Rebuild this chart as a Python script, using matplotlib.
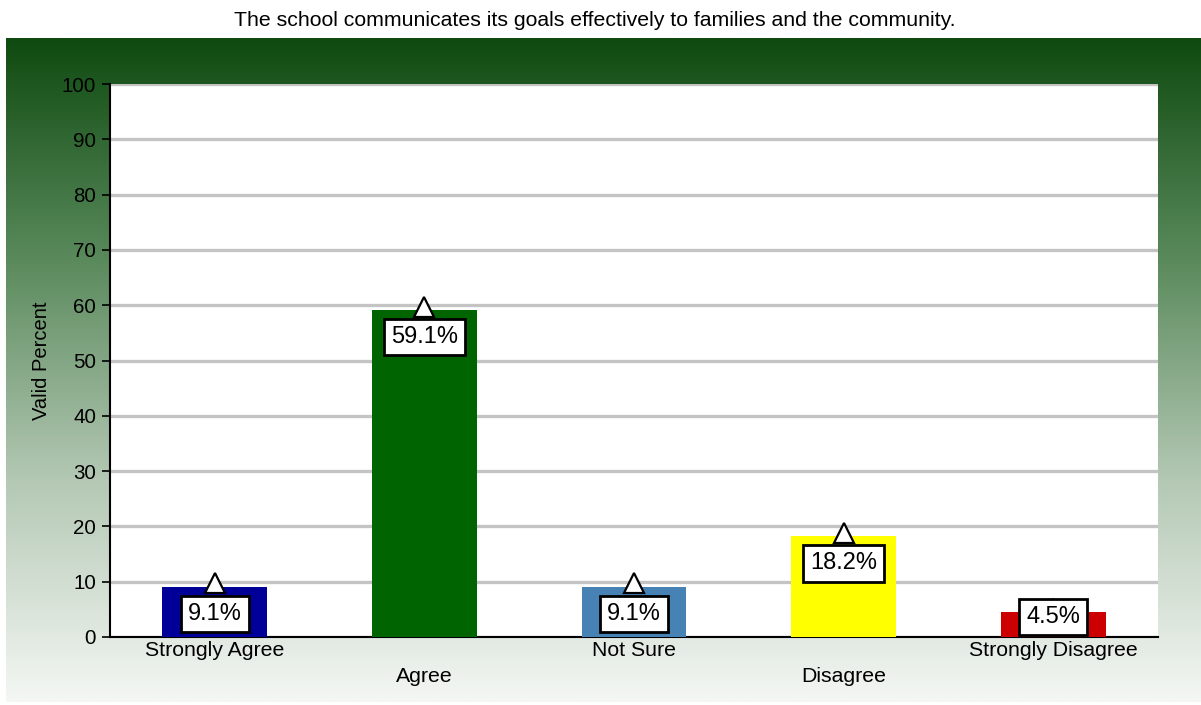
import numpy as np
import matplotlib.pyplot as plt
from matplotlib.colors import LinearSegmentedColormap

plt.rcParams['font.family'] = ['Liberation Sans', 'DejaVu Sans']

title = 'The school communicates its goals effectively to families and the community.'
categories = ['Strongly Agree', 'Agree', 'Not Sure', 'Disagree', 'Strongly Disagree']
values = [9.1, 59.1, 9.1, 18.2, 4.5]
colors = ['#000099', '#006400', '#4682b4', '#ffff00', '#cc0000']

W, H = 1201, 705
fig = plt.figure(figsize=(W / 100, H / 100), dpi=100)
fig.patch.set_facecolor('white')

# gradient background panel
bg = fig.add_axes([6 / W, 3 / H, 1 - 6 / W, (702 - 38) / H])
cmap = LinearSegmentedColormap.from_list('bg', ['#0f4a10', '#5a8a5c', '#b4c8b4', '#f4f7f4'])
grad = np.linspace(0, 1, 256).reshape(-1, 1)
bg.imshow(grad, aspect='auto', cmap=cmap, extent=[0, 1, 0, 1], origin='upper')
bg.axis('off')

fig.text(595 / W, 1 - 21 / H, title, ha='center', va='center', fontsize=15.3)

ax = fig.add_axes([110 / W, (H - 637) / H, 1048 / W, (637 - 84) / H])
ax.set_facecolor('white')
x = np.arange(len(categories))
ax.bar(x, values, width=0.5, color=colors, zorder=3)
ax.set_xlim(-0.5, len(categories) - 0.5)
ax.set_ylim(0, 100)
ax.set_yticks(range(0, 101, 10))
ax.yaxis.grid(True, color='#c4c4c4', linewidth=2.4, zorder=1)
ax.set_axisbelow(True)

for s in ['top', 'right']:
    ax.spines[s].set_visible(False)
ax.spines['left'].set_linewidth(1.5)
ax.spines['bottom'].set_linewidth(1.5)
ax.tick_params(axis='y', length=6, width=1.2, pad=4, labelsize=14.8)
ax.tick_params(axis='x', length=0, pad=3, labelsize=15.3)
ax.set_xticks(x)
ax.set_xticklabels([c if i % 2 == 0 else '\n' + c for i, c in enumerate(categories)],
                   linespacing=1.45)
ax.set_ylabel('Valid Percent', fontsize=14.5, labelpad=8)

for xi, v in zip(x, values):
    ax.plot(xi, v + 0.6, marker='^', markersize=15, markerfacecolor='white',
            markeredgecolor='black', markeredgewidth=1.6, zorder=5, clip_on=False)
    ax.text(xi, max(v - 4.9, 3.6), f'{v:.1f}%', ha='center', va='center', fontsize=17,
            zorder=6, bbox=dict(boxstyle='square,pad=0.3', facecolor='white',
                                edgecolor='black', linewidth=2))

fig.savefig('out.png', dpi=100)
